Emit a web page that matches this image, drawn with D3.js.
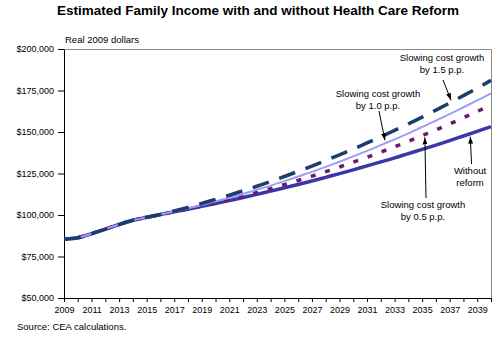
<!DOCTYPE html>
<html>
<head>
<meta charset="utf-8">
<script src="https://cdn.jsdelivr.net/npm/d3@7"></script>
<style>
    body { margin: 0; background: #fff; }
    svg { display: block; font-family: "Liberation Sans", Arial, sans-serif; }
</style>
</head>
<body>
<svg id="chart"></svg>
<script>
//years on the category axis
var years = [2009, 2010, 2011, 2012, 2013, 2014, 2015, 2016, 2017, 2018, 2019, 2020,
             2021, 2022, 2023, 2024, 2025, 2026, 2027, 2028, 2029, 2030, 2031, 2032,
             2033, 2034, 2035, 2036, 2037, 2038, 2039, 2040]

//family income, real 2009 dollars
var withoutReform = [85500, 86300, 88700, 91500, 94300, 96800, 98600, 100300, 101900, 103500, 105200, 106900,
                     108700, 110500, 112400, 114400, 116400, 118400, 120500, 122700, 124900, 127200, 129600, 132000,
                     134400, 137000, 139500, 142100, 144800, 147600, 150400, 153200]
var slowing05 = [85500, 86300, 88700, 91500, 94300, 96800, 98600, 100300, 101900, 103600, 105400, 107300,
                 109300, 111400, 113600, 115900, 118300, 120800, 123400, 126100, 128900, 131800, 134800, 137900,
                 141100, 144400, 147800, 151300, 154900, 158600, 162400, 166300]
var slowing10 = [85500, 86300, 88700, 91500, 94300, 96800, 98600, 100300, 102100, 104000, 106000, 108200,
                 110400, 112700, 115200, 117700, 120400, 123200, 126000, 129000, 132100, 135300, 138600, 142100,
                 145600, 149200, 153000, 156800, 160800, 164900, 169000, 173300]
var slowing15 = [85500, 86300, 88700, 91500, 94300, 96800, 98600, 100300, 102400, 104600, 106900, 109400,
                 111900, 114600, 117300, 120200, 123200, 126300, 129500, 132800, 136200, 139700, 143400, 147100,
                 151000, 154900, 159000, 163200, 167500, 171900, 176400, 181100]

var yTicks = [50000, 75000, 100000, 125000, 150000, 175000, 200000]
var xLabelYears = [2009, 2011, 2013, 2015, 2017, 2019, 2021, 2023, 2025, 2027, 2029, 2031, 2033, 2035, 2037, 2039]

var titleText = "Estimated Family Income with and without Health Care Reform"
var unitText = "Real 2009 dollars"
var sourceText = "Source: CEA calculations."

//drawing order: bottom line first
var series = [
    {name: "without", values: withoutReform, color: "#3b37a6", width: 3.5, dash: null},
    {name: "s05", values: slowing05, color: "#6b1a6e", width: 3.5, dash: "5,10"},
    {name: "s10", values: slowing10, color: "#a09cf6", width: 2, dash: null},
    {name: "s15", values: slowing15, color: "#1b3e6c", width: 3.5, dash: "17,11"}
]

//callouts: text lines, where the text sits, and which line the arrow points at
var callouts = [
    {series: "s15", lines: ["Slowing cost growth", "by 1.5 p.p."], tx: 442, ty: 60.5, from: [443, 80], year: 2037.1, gap: -2},
    {series: "s10", lines: ["Slowing cost growth", "by 1.0 p.p."], tx: 378, ty: 96.5, from: [379, 111], year: 2032.3, gap: -3},
    {series: "without", lines: ["Without", "reform"], tx: 470, ty: 173.5, from: [471.5, 164], year: 2038.5, gap: 3},
    {series: "s05", lines: ["Slowing cost growth", "by 0.5 p.p."], tx: 423, ty: 207.5, from: [426, 198], year: 2035.2, gap: 3}
]

//svg dimensions
var dimensions = {
    width: 498,
    height: 341,
    margin: {top: 49, right: 7, bottom: 43, left: 64}
}

var svg = d3.select("#chart")
    .attr("width", dimensions.width)
    .attr("height", dimensions.height)

svg.append("rect")
    .attr("width", dimensions.width)
    .attr("height", dimensions.height)
    .attr("fill", "#fff")

var x = d3.scaleLinear()
    .domain([years[0], years[years.length - 1]])
    .range([dimensions.margin.left, dimensions.width - dimensions.margin.right])

var y = d3.scaleLinear()
    .domain([yTicks[0], yTicks[yTicks.length - 1]])
    .range([dimensions.height - dimensions.margin.bottom, dimensions.margin.top])

//arrow head
svg.append("defs").append("marker")
    .attr("id", "arrowhead")
    .attr("viewBox", "0 0 10 10")
    .attr("refX", 10)
    .attr("refY", 5)
    .attr("markerUnits", "userSpaceOnUse")
    .attr("markerWidth", 7)
    .attr("markerHeight", 7)
    .attr("orient", "auto")
    .append("path")
    .attr("d", "M0,1.5 L10,5 L0,8.5 Z")
    .attr("fill", "#000")

//title and labels
svg.append("text")
    .attr("x", 258)
    .attr("y", 15)
    .attr("text-anchor", "middle")
    .attr("font-size", 13.5)
    .attr("font-weight", "bold")
    .text(titleText)

svg.append("text")
    .attr("x", 65)
    .attr("y", 43)
    .attr("font-size", 9.5)
    .text(unitText)

svg.append("text")
    .attr("x", 17)
    .attr("y", 330)
    .attr("font-size", 9.5)
    .text(sourceText)

//grey frame on top and right of plot area
var plotTop = y.range()[1], plotBottom = y.range()[0]
var plotLeft = x.range()[0], plotRight = x.range()[1]
svg.append("path")
    .attr("d", "M" + plotLeft + "," + (plotTop + 0.5) + "H" + (plotRight + 0.5) + "V" + plotBottom)
    .attr("fill", "none")
    .attr("stroke", "#8a8a8a")
    .attr("stroke-width", 1)

//axes
var yAxis = d3.axisLeft(y)
    .tickValues(yTicks)
    .tickFormat(d3.format("$,"))
    .tickSize(6)
    .tickSizeOuter(0)
    .tickPadding(4)

var xAxis = d3.axisBottom(x)
    .tickValues(years)
    .tickFormat(d => xLabelYears.indexOf(d) >= 0 ? String(d) : "")
    .tickSize(4)
    .tickSizeOuter(0)
    .tickPadding(5)

var gy = svg.append("g")
    .attr("transform", "translate(" + plotLeft + ",0)")
    .call(yAxis)
var gx = svg.append("g")
    .attr("transform", "translate(0," + plotBottom + ")")
    .call(xAxis)

svg.selectAll(".domain, .tick line").attr("stroke", "#000")
svg.selectAll(".tick text")
    .attr("font-family", "\"Liberation Sans\", Arial, sans-serif")
    .attr("font-size", 9)
    .attr("fill", "#000")

//lines
var lineGenerator = d3.line()
    .x((d, i) => x(years[i]))
    .y(d => y(d))
    .curve(d3.curveCatmullRom.alpha(0.5))

svg.append("g")
    .selectAll(".income_line")
    .data(series)
    .enter()
    .append("path")
    .attr("class", "income_line")
    .attr("d", d => lineGenerator(d.values))
    .attr("fill", "none")
    .attr("stroke", d => d.color)
    .attr("stroke-width", d => d.width)
    .attr("stroke-dasharray", d => d.dash)

//value on a line between two years
function valueAt(values, year) {
    var i = Math.min(Math.floor(year - years[0]), values.length - 2)
    var t = year - years[i]
    return values[i] + t * (values[i + 1] - values[i])
}

var seriesByName = new Map(series.map(s => [s.name, s]))

var notes = svg.append("g")
callouts.forEach(c => {
    var label = notes.append("text")
        .attr("text-anchor", "middle")
        .attr("font-size", 9.5)
        .attr("fill", "#000")
    c.lines.forEach((line, i) => {
        label.append("tspan")
            .attr("x", c.tx)
            .attr("y", c.ty + i * 12.5)
            .text(line)
    })

    var target = seriesByName.get(c.series)
    var tipX = x(c.year)
    var tipY = y(valueAt(target.values, c.year)) + c.gap
    notes.append("line")
        .attr("x1", c.from[0])
        .attr("y1", c.from[1])
        .attr("x2", tipX)
        .attr("y2", tipY)
        .attr("stroke", "#000")
        .attr("stroke-width", 1)
        .attr("marker-end", "url(#arrowhead)")
})
</script>
</body>
</html>
